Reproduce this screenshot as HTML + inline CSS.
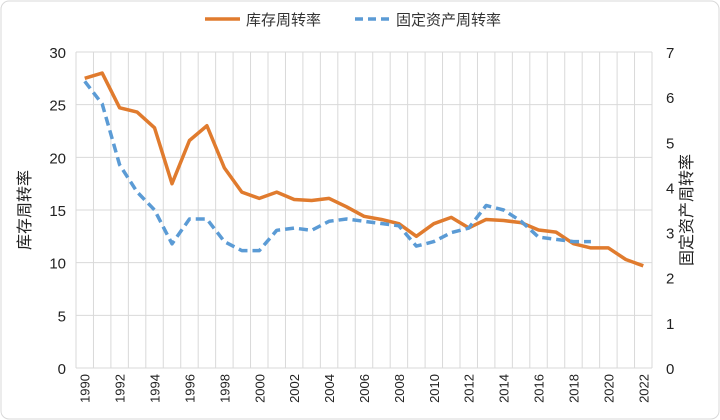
<!DOCTYPE html>
<html><head><meta charset="utf-8"><style>
body{margin:0;background:#fff;}
svg{display:block;font-family:"Liberation Sans","Noto Sans CJK SC",sans-serif;}
</style></head><body>
<svg id="c" width="720" height="420">
<rect x="1" y="1" width="718" height="418" rx="8" fill="#fff" stroke="#d9d9d9"/>
<g id="grid"></g><g id="axes"></g><g id="series"></g>
<g>
<line x1="205" y1="19" x2="240" y2="19" stroke="#e07b2e" stroke-width="3.5"/>
<text x="246" y="25" font-size="15" fill="#333">库存周转率</text>
<line x1="355" y1="19" x2="390" y2="19" stroke="#5b9bd5" stroke-width="3.5" stroke-dasharray="8,5"/>
<text x="396" y="25" font-size="15" fill="#333">固定资产周转率</text>
</g>
<text transform="translate(30,210) rotate(-90)" text-anchor="middle" font-size="16" fill="#222">库存周转率</text>
<text transform="translate(692,210) rotate(-90)" text-anchor="middle" font-size="16" fill="#222">固定资产周转率</text>
</svg>
<script>
const years=[];for(let y=1990;y<=2022;y++)years.push(y);
const inventory=[27.5,28,24.7,24.3,22.8,17.5,21.6,23,19,16.7,16.1,16.7,16,15.9,16.1,15.3,14.4,14.1,13.7,12.5,13.7,14.3,13.3,14.1,14.0,13.8,13.1,12.9,11.8,11.4,11.4,10.3,9.7];
const fixedAsset=[6.35,5.85,4.5,3.9,3.5,2.75,3.3,3.3,2.8,2.6,2.6,3.05,3.1,3.05,3.25,3.3,3.25,3.2,3.15,2.7,2.8,3.0,3.1,3.6,3.5,3.25,2.9,2.85,2.8,2.8];
const leftTicks=[0,5,10,15,20,25,30];
const rightTicks=[0,1,2,3,4,5,6,7];
const L=76,R=652,T=52,B=368;
const bw=(R-L)/years.length;
const x=i=>L+bw*(i+0.5);
const yl=v=>B-(v/30)*(B-T);
const yr=v=>B-(v/7)*(B-T);
const NS="http://www.w3.org/2000/svg";
function mk(tag,attrs,parent){const e=document.createElementNS(NS,tag);for(const k in attrs)e.setAttribute(k,attrs[k]);parent.appendChild(e);return e;}
const grid=document.getElementById('grid'),axes=document.getElementById('axes'),ser=document.getElementById('series');
leftTicks.forEach(v=>{
 const l=mk('line',{x1:L,x2:R,y1:yl(v),y2:yl(v),stroke:'#d9d9d9','stroke-width':1},grid);
 
 
 const t=mk('text',{x:L-10,y:yl(v)+6,'text-anchor':'end','font-size':15,fill:'#222'},axes);
 t.textContent=v;
 
 
});
rightTicks.forEach(v=>{
 const t=mk('text',{x:R+14,y:yr(v)+6,'text-anchor':'start','font-size':15,fill:'#222'},axes);
 t.textContent=v;
 
 
});
for(let i=0;i<=years.length;i++){
 const l=mk('line',{x1:L+bw*i,x2:L+bw*i,y1:T,y2:B,stroke:'#d9d9d9','stroke-width':1},grid);
 
 
}
years.forEach((y,i)=>{
 if(i%2)return;
 const t=mk('text',{transform:`translate(${x(i)+5},${B+6}) rotate(-90)`,'text-anchor':'end','font-size':13,fill:'#222'},axes);
 t.textContent=y;
 
 
});
const p1=mk('polyline',{points:inventory.map((v,i)=>x(i)+','+yl(v)).join(' '),fill:'none',stroke:'#e07b2e','stroke-width':3.5,'stroke-linejoin':'round'},ser);


const p2=mk('polyline',{points:fixedAsset.map((v,i)=>x(i)+','+yr(v)).join(' '),fill:'none',stroke:'#5b9bd5','stroke-width':3.5,'stroke-dasharray':'9,5','stroke-linejoin':'round'},ser);


</script>
</body></html>
